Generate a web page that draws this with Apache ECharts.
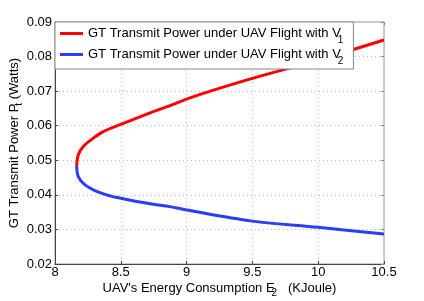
<!DOCTYPE html>
<html>
<head>
<meta charset="utf-8">
<script src="https://cdn.jsdelivr.net/npm/echarts@6/dist/echarts.min.js"></script>
<style>html,body{margin:0;padding:0;background:#fff;}#c{width:424px;height:301px;}</style>
</head>
<body>
<div id="c"></div>
<script>
// Data (E2 in KJoule, Pt in Watts)
const redE = [8.165, 8.177, 8.215, 8.291, 8.367, 8.5, 8.621, 8.747, 8.874, 9.0, 9.18, 9.5, 10.0, 10.5];
const redP = [0.0484, 0.0516, 0.0540, 0.0564, 0.0583, 0.0604, 0.0622, 0.0641, 0.0658, 0.0677, 0.0700, 0.0737, 0.0790, 0.0848];
const blueE = [8.165, 8.177, 8.228, 8.317, 8.418, 8.5, 8.621, 8.747, 8.874, 9.0, 9.5, 10.0, 10.5];
const blueP = [0.0484, 0.0453, 0.0429, 0.0410, 0.0397, 0.0390, 0.0381, 0.0373, 0.0366, 0.0356, 0.0324, 0.0306, 0.0287];
const xTicks = [8, 8.5, 9, 9.5, 10, 10.5];
const yTicks = [0.02, 0.03, 0.04, 0.05, 0.06, 0.07, 0.08, 0.09];
const seriesNames = ['GT Transmit Power under UAV Flight with V1', 'GT Transmit Power under UAV Flight with V2'];

const font = "'Liberation Sans', Arial, Helvetica, sans-serif";
const chart = echarts.init(document.getElementById('c'), null, {renderer: 'canvas'});

const zip = (a, b) => a.map((v, i) => [v, b[i]]);

const option = {
  animation: false,
  backgroundColor: '#fff',
  textStyle: {fontFamily: font},
  grid: {show: true, borderColor: '#999', borderWidth: 1, backgroundColor: '#fff',
    left: 55, right: 40, top: 22, bottom: 37, containLabel: false, outerBoundsMode: 'none'},
  legend: {
    left: 55, top: 22,
    orient: 'vertical',
    backgroundColor: '#fff',
    borderColor: '#888',
    borderWidth: 1,
    padding: [4, 10, 3, 5],
    itemGap: 2,
    itemWidth: 23,
    itemHeight: 3,
    icon: 'rect',
    data: seriesNames,
    formatter: function (name) {
      const idx = seriesNames.indexOf(name) + 1;
      return '{a|GT Transmit Power under UAV Flight with V}{s|' + idx + '}';
    },
    textStyle: {
      fontFamily: font,
      rich: {
        a: {fontSize: 13, color: '#000', fontFamily: font, lineHeight: 15, height: 15, verticalAlign: 'top'},
        s: {fontSize: 10, color: '#000', fontFamily: font, lineHeight: 10, height: 10, padding: [9, 0, 0, -3], verticalAlign: 'top'}
      }
    }
  },
  xAxis: [{
    type: 'value', min: 8, max: 10.5, interval: 0.5,
    name: '{a|UAV\'s Energy Consumption E}{s|2}{a|   (KJoule)}',
    nameLocation: 'middle', nameGap: 18, nameMoveOverlap: false,
    nameTextStyle: {
      rich: {
        a: {fontSize: 13, color: '#000', fontFamily: font},
        s: {fontSize: 10, color: '#000', fontFamily: font, padding: [0, 0, -9, -3]}
      }
    },
    axisLine: {show: true, lineStyle: {color: '#444', width: 1}},
    axisTick: {show: true, inside: true, length: 3, lineStyle: {color: '#444'}},
    axisLabel: {color: '#000', fontSize: 13, fontFamily: font, margin: 2,
      formatter: v => String(xTicks.find(t => Math.abs(t - v) < 1e-9) ?? v)},
    splitLine: {show: true, lineStyle: {color: '#bbb', type: [1, 3], width: 1}}
  }, {
    type: 'value', min: 8, max: 10.5, interval: 0.5, position: 'top',
    axisLine: {show: false}, axisLabel: {show: false}, splitLine: {show: false},
    axisTick: {show: true, inside: true, length: 3, lineStyle: {color: '#888'}}
  }],
  yAxis: [{
    type: 'value', min: 0.02, max: 0.09, interval: 0.01,
    name: '{a|GT Transmit Power P}{s|t}{a| (Watts)}',
    nameLocation: 'middle', nameGap: 34, nameRotate: 90, nameMoveOverlap: false,
    nameTextStyle: {
      rich: {
        a: {fontSize: 13, color: '#000', fontFamily: font},
        s: {fontSize: 10, color: '#000', fontFamily: font, padding: [0, 0, -9, -2]}
      }
    },
    axisLine: {show: true, lineStyle: {color: '#444', width: 1}},
    axisTick: {show: true, inside: true, length: 3, lineStyle: {color: '#444'}},
    axisLabel: {color: '#000', fontSize: 13, fontFamily: font, margin: 3,
      formatter: v => {
        const t = yTicks.find(t => Math.abs(t - v) < 1e-9);
        return (t ?? v).toFixed(2);
      }},
    splitLine: {show: true, lineStyle: {color: '#bbb', type: [1, 3], width: 1}}
  }, {
    type: 'value', min: 0.02, max: 0.09, interval: 0.01, position: 'right',
    axisLine: {show: false}, axisLabel: {show: false}, splitLine: {show: false},
    axisTick: {show: true, inside: true, length: 3, lineStyle: {color: '#888'}}
  }],
  series: [{
    name: seriesNames[0], type: 'line', data: zip(redE, redP),
    smooth: 0.35, showSymbol: false, symbol: 'none',
    lineStyle: {color: '#ff0000', width: 3}, itemStyle: {color: '#ff0000'}, z: 3
  }, {
    name: seriesNames[1], type: 'line', data: zip(blueE, blueP),
    smooth: 0.35, showSymbol: false, symbol: 'none',
    lineStyle: {color: '#2a3dff', width: 3}, itemStyle: {color: '#2a3dff'}, z: 2
  }]
};
chart.setOption(option);
</script>
</body>
</html>
